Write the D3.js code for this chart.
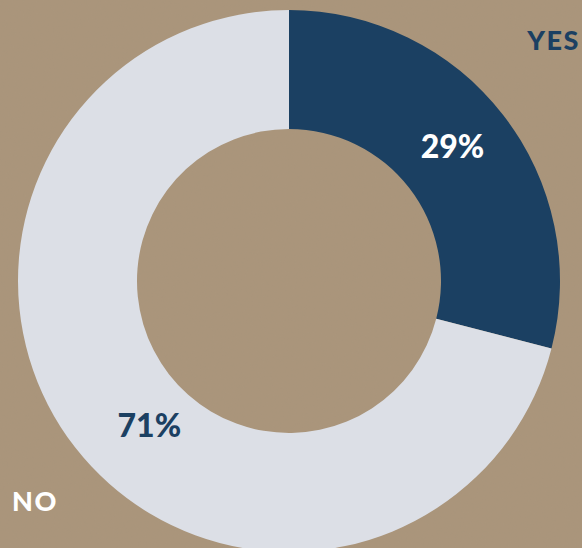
<!DOCTYPE html>
<html>
<head>
<meta charset="utf-8">
<script src="https://cdn.jsdelivr.net/npm/d3@7"></script>
<style>
  html, body { margin: 0; padding: 0; background: #a9947a; }
  svg { display: block; }
</style>
</head>
<body>
<div class="canvas"></div>
<script>
// chart data
const categories = ['YES', 'NO'];
const shares = [29, 71];
const valueLabels = ['29%', '71%'];

// dimensions
const dims = { width: 582, height: 548, outer: 271, inner: 152 };
const cent = { x: 289, y: 281 };

const svg = d3.select('.canvas')
    .append('svg')
    .attr('width', dims.width)
    .attr('height', dims.height);

// cardboard-ish background
const defs = svg.append('defs');
const f = defs.append('filter').attr('id', 'grain').attr('x', 0).attr('y', 0).attr('width', '100%').attr('height', '100%');
f.append('feTurbulence').attr('type', 'fractalNoise').attr('baseFrequency', 0.6).attr('numOctaves', 2).attr('seed', 3);
f.append('feColorMatrix').attr('type', 'matrix')
    .attr('values', '0 0 0 0 0.4  0 0 0 0 0.33  0 0 0 0 0.25  0 0 0 0.14 0');
f.append('feComposite').attr('in2', 'SourceGraphic').attr('operator', 'in');

svg.append('rect').attr('width', dims.width).attr('height', dims.height).attr('fill', '#aa957b');
svg.append('rect').attr('width', dims.width).attr('height', dims.height).attr('fill', '#aa957b')
    .attr('filter', 'url(#grain)').attr('opacity', 0.5);

const graph = svg.append('g')
    .attr('transform', `translate(${cent.x}, ${cent.y})`);

const data = categories.map((c, i) => ({ name: c, value: shares[i], label: valueLabels[i] }));

const pie = d3.pie().sort(null).value(d => d.value);

const arcPath = d3.arc()
    .outerRadius(dims.outer)
    .innerRadius(dims.inner);

const color = d3.scaleOrdinal()
    .domain(categories)
    .range(['#1b4062', '#dcdfe6']);
const textColor = d3.scaleOrdinal()
    .domain(categories)
    .range(['#ffffff', '#1b4062']);

const arcs = pie(data);

graph.selectAll('path')
    .data(arcs)
    .enter()
    .append('path')
    .attr('d', arcPath)
    .attr('fill', d => color(d.data.name));

// percentage labels, nudged off the centroid like the original
const labelPlace = { YES: { r: 212, shift: -0.03 }, NO: { r: 201, shift: -0.143 } };
graph.selectAll('text.pct')
    .data(arcs)
    .enter()
    .append('text')
    .attr('class', 'pct')
    .attr('transform', d => {
        const lp = labelPlace[d.data.name];
        const a = (d.startAngle + d.endAngle) / 2 + lp.shift;
        const p = d3.arc().innerRadius(lp.r).outerRadius(lp.r).centroid({ startAngle: a, endAngle: a });
        return `translate(${p[0]}, ${p[1]})`;
    })
    .attr('text-anchor', 'middle')
    .attr('dy', '0.36em')
    .attr('fill', d => textColor(d.data.name))
    .style('font-family', 'Lato, "Open Sans", sans-serif')
    .style('font-weight', 900)
    .style('font-size', '32px')
    .text(d => d.data.label);

// category labels in the corners
const catPos = { YES: [580, 40], NO: [12, 501] };
svg.selectAll('text.cat')
    .data(categories)
    .enter()
    .append('text')
    .attr('class', 'cat')
    .attr('x', d => catPos[d][0])
    .attr('y', d => catPos[d][1])
    .attr('dy', '0.36em')
    .attr('text-anchor', d => d === 'YES' ? 'end' : 'start')
    .attr('fill', d => d === 'YES' ? '#1b4062' : '#ffffff')
    .style('font-family', 'Lato, "Open Sans", sans-serif')
    .style('font-weight', 900)
    .style('font-size', '27px')
    .style('letter-spacing', '1.5px')
    .text(d => d);
</script>
</body>
</html>
